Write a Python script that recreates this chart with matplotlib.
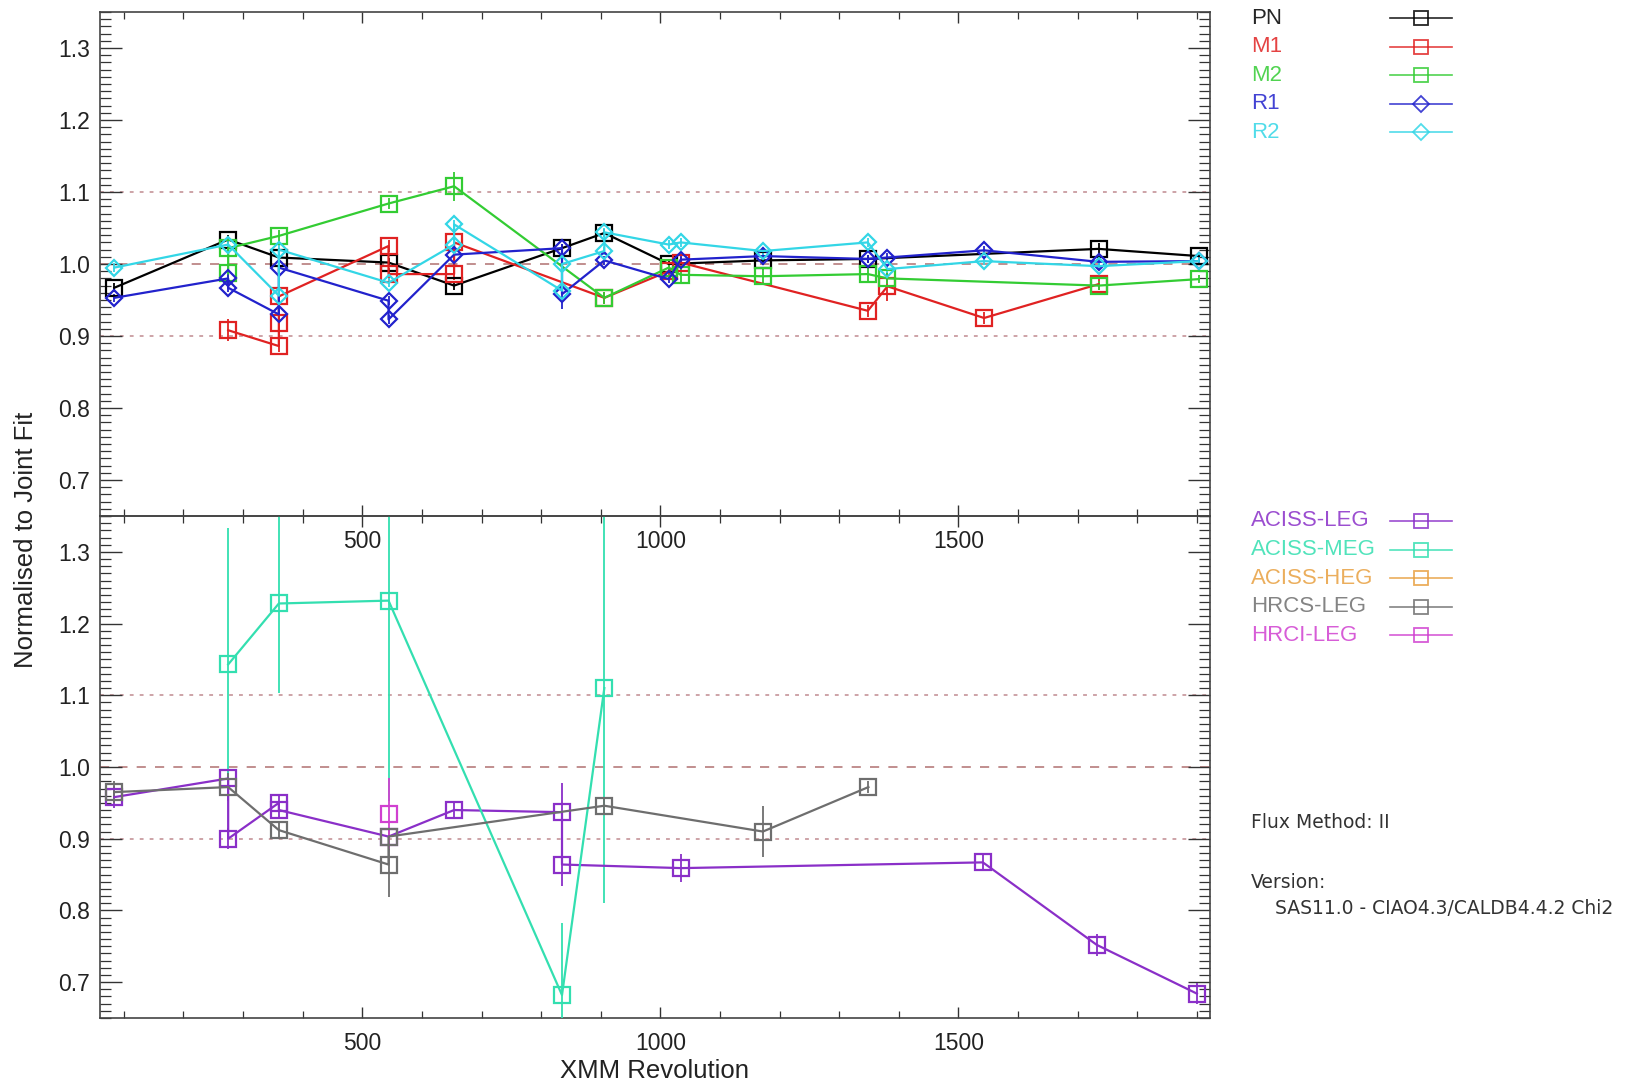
import matplotlib
matplotlib.use("Agg")
import matplotlib.pyplot as plt
from matplotlib.lines import Line2D
from matplotlib.ticker import MultipleLocator, FormatStrFormatter

plt.rcParams['font.family'] = ['Liberation Sans', 'DejaVu Sans']

# ---------------- data: top panel (XMM instruments) ----------------
pn_x = [84, 275, 360, 544, 654, 835, 906, 1014, 1172, 1348, 1735, 1903]
pn_y = [0.967, 1.034, 1.009, 1.002, 0.970, 1.022, 1.043, 1.000, 1.005, 1.007, 1.021, 1.011]
pn_e = [0.006, 0.006, 0.006, 0.006, 0.006, 0.006, 0.006, 0.006, 0.006, 0.006, 0.008, 0.006]

m1_x = [275, 360, 360, 360, 544, 544, 654, 654, 906, 1014, 1034, 1348, 1381, 1543, 1735]
m1_y = [0.908, 0.886, 0.918, 0.955, 1.025, 0.986, 0.986, 1.030, 0.953, 0.990, 1.002, 0.935, 0.969, 0.925, 0.972]
m1_e = [0.015, 0.008, 0.025, 0.008, 0.008, 0.008, 0.008, 0.008, 0.008, 0.008, 0.008, 0.008, 0.02, 0.008, 0.008]

m2_x = [275, 275, 360, 544, 654, 906, 1014, 1034, 1172, 1348, 1381, 1735, 1903]
m2_y = [0.987, 1.022, 1.039, 1.084, 1.108, 0.953, 0.995, 0.985, 0.983, 0.986, 0.980, 0.970, 0.979]
m2_e = [0.008, 0.008, 0.008, 0.008, 0.02, 0.008, 0.008, 0.01, 0.01, 0.01, 0.008, 0.006, 0.006]

r1_x = [84, 275, 275, 360, 360, 544, 544, 654, 835, 835, 906, 1014, 1034, 1172, 1348, 1381, 1543, 1735, 1903]
r1_y = [0.953, 0.980, 0.967, 0.930, 0.995, 0.949, 0.923, 1.013, 1.022, 0.958, 1.005, 0.979, 1.006, 1.011, 1.007,
        1.009, 1.019, 1.003, 1.004]
r1_e = [0.006, 0.006, 0.006, 0.01, 0.006, 0.006, 0.006, 0.006, 0.006, 0.02, 0.006, 0.006, 0.006, 0.006, 0.006,
        0.006, 0.006, 0.006, 0.006]

r2_x = [84, 275, 360, 360, 544, 654, 654, 835, 835, 906, 906, 1014, 1034, 1172, 1348, 1381, 1543, 1735, 1903]
r2_y = [0.995, 1.027, 0.956, 1.020, 0.974, 1.027, 1.055, 0.963, 1.000, 1.018, 1.044, 1.027, 1.030, 1.018, 1.030,
        0.993, 1.004, 0.997, 1.004]
r2_e = [0.006] * 19

# ---------------- data: bottom panel (Chandra gratings) ----------------
leg_x = [84, 275, 275, 360, 360, 544, 654, 835, 835, 1035, 1541, 1732, 1900]
leg_y = [0.958, 0.984, 0.900, 0.950, 0.940, 0.903, 0.940, 0.937, 0.864, 0.859, 0.867, 0.752, 0.684]
leg_e = [0.015, 0.01, 0.015, 0.01, 0.01, 0.01, 0.012, 0.04, 0.03, 0.02, 0.012, 0.015, 0.015]

meg_x = [275, 360, 544, 835, 906]
meg_y = [1.143, 1.228, 1.232, 0.682, 1.110]
meg_e = [0.19, 0.125, 0.28, 0.10, 0.30]

heg_x = []
heg_y = []
heg_e = []

hrcs_x = [84, 275, 360, 544, 544, 906, 1172, 1349]
hrcs_y = [0.965, 0.972, 0.912, 0.864, 0.903, 0.946, 0.910, 0.972]
hrcs_e = [0.015, 0.02, 0.01, 0.045, 0.01, 0.01, 0.035, 0.008]

hrci_x = [544]
hrci_y = [0.935]
hrci_e = [0.05]

top_labels = ['PN', 'M1', 'M2', 'R1', 'R2']
top_colors = ['#000000', '#e02222', '#33cc33', '#2222cc', '#33d6e6']
top_markers = ['s', 's', 's', 'D', 'D']
bot_labels = ['ACISS-LEG', 'ACISS-MEG', 'ACISS-HEG', 'HRCS-LEG', 'HRCI-LEG']
bot_colors = ['#8a2fc8', '#33dfb0', '#e8a040', '#6e6e6e', '#d040d0']
bot_markers = ['s', 's', 's', 's', 's']

W, H = 1646, 1088
fig = plt.figure(figsize=(W / 100, H / 100), dpi=100)

def fx(px):
    return px / W

def fy(py):
    return 1 - py / H

ax_top = fig.add_axes([fx(100), fy(516), fx(1210) - fx(100), fy(12) - fy(516)], facecolor='none')
ax_bot = fig.add_axes([fx(100), fy(1018), fx(1210) - fx(100), fy(516) - fy(1018)], facecolor='none')
ax_top.set_zorder(3)

for ax in (ax_top, ax_bot):
    ax.set_xlim(60, 1922)
    ax.set_ylim(0.65, 1.35)
    ax.xaxis.set_major_locator(MultipleLocator(500))
    ax.xaxis.set_minor_locator(MultipleLocator(100))
    ax.yaxis.set_major_locator(MultipleLocator(0.1))
    ax.yaxis.set_minor_locator(MultipleLocator(0.01))
    ax.yaxis.set_major_formatter(FormatStrFormatter('%.1f'))
    ax.xaxis.set_major_formatter(FormatStrFormatter('%d'))
    ax.tick_params(which='both', direction='in', top=True, right=True, colors='#333333',
                   labelcolor='#222222', labelsize=16.5)
    ax.tick_params(axis='y', which='major', length=16, width=1.0, pad=7)
    ax.tick_params(axis='y', which='minor', length=8, width=0.9)
    ax.tick_params(axis='x', which='major', length=8, width=1.0, pad=10)
    ax.tick_params(axis='x', which='minor', length=5, width=0.9)
    for s in ax.spines.values():
        s.set_color('#444444')
        s.set_linewidth(1.2)
    ax.axhline(1.1, color='#c08a90', lw=1.1, ls=(0, (2.5, 4)), zorder=1)
    ax.axhline(0.9, color='#c08a90', lw=1.1, ls=(0, (2.5, 4)), zorder=1)

ax_top.axhline(1.0, color='#b07070', lw=1.1, ls=(0, (6, 6)), zorder=1)
ax_bot.axhline(1.0, color='#b07070', lw=1.1, ls=(0, (6, 6)), zorder=1)

def draw(ax, x, y, e, color, marker):
    if len(x) == 0:
        return
    ms = 11 if marker == 's' else 8.5
    ax.errorbar(x, y, yerr=e, color=color, marker=marker, ms=ms, mfc='none', mec=color, mew=1.6,
                lw=1.6, elinewidth=1.3, capsize=0, zorder=4)

top_series = [(pn_x, pn_y, pn_e), (m1_x, m1_y, m1_e), (m2_x, m2_y, m2_e), (r1_x, r1_y, r1_e), (r2_x, r2_y, r2_e)]
for (x, y, e), c, m in zip(top_series, top_colors, top_markers):
    draw(ax_top, x, y, e, c, m)

bot_series = [(leg_x, leg_y, leg_e), (meg_x, meg_y, meg_e), (heg_x, heg_y, heg_e), (hrcs_x, hrcs_y, hrcs_e),
              (hrci_x, hrci_y, hrci_e)]
for (x, y, e), c, m in zip(bot_series, bot_colors, bot_markers):
    draw(ax_bot, x, y, e, c, m)

# legends
def legend_block(labels, colors, markers, y0):
    for i, (lab, c, m) in enumerate(zip(labels, colors, markers)):
        yy = y0 + i * 28.6
        fig.text(fx(1251), fy(yy), lab, color=c, fontsize=16, va='center', ha='left', alpha=0.85)
        fig.add_artist(Line2D([fx(1390), fx(1452)], [fy(yy), fy(yy)], color=c, lw=1.2,
                              transform=fig.transFigure, alpha=0.85))
        fig.add_artist(Line2D([fx(1421)], [fy(yy)], color=c, marker=m, ms=10 if m == 's' else 8,
                              mfc='none', mew=1.3, transform=fig.transFigure, alpha=0.85))

legend_block(top_labels, top_colors, top_markers, 18)
legend_block(bot_labels, bot_colors, bot_markers, 521)

fig.text(fx(1251), fy(823), 'Flux Method: II', fontsize=13.5, family='DejaVu Sans', color='#333333',
         va='center', ha='left')
fig.text(fx(1251), fy(882), 'Version:', fontsize=13.5, family='DejaVu Sans', color='#333333',
         va='center', ha='left')
fig.text(fx(1275), fy(908), 'SAS11.0 - CIAO4.3/CALDB4.4.2 Chi2', fontsize=13.5, family='DejaVu Sans',
         color='#333333', va='center', ha='left')

fig.text(fx(26), fy(540), 'Normalised to Joint Fit', rotation=90, fontsize=18.5, color='#222222',
         va='center', ha='center')
fig.text(fx(655), fy(1071), 'XMM Revolution', fontsize=18.5, color='#222222', va='center', ha='center')

fig.savefig('out.png', dpi=100)
